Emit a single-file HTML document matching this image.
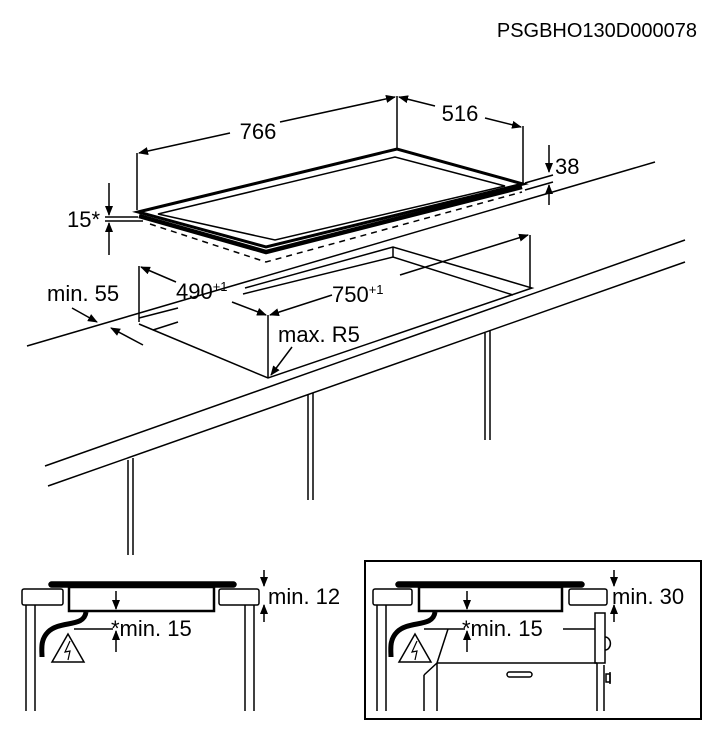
<!DOCTYPE html>
<html><head><meta charset="utf-8"><style>
html,body{margin:0;padding:0;background:#fff;}
svg{display:block;}
text{font-family:"Liberation Sans",sans-serif;fill:#000;}
</style></head><body>
<svg width="717" height="741" viewBox="0 0 717 741" xmlns="http://www.w3.org/2000/svg">
<defs>
<marker id="a" markerWidth="10" markerHeight="8" refX="9" refY="4" orient="auto" markerUnits="userSpaceOnUse">
<path d="M0,0 L10,4 L0,8 z" fill="#000"/></marker>
</defs>
<text x="697" y="37" font-size="20" text-anchor="end">PSGBHO130D000078</text>
<g stroke="#000" stroke-width="1.5" fill="none">
<!-- countertop -->
<line x1="27" y1="346" x2="655" y2="162"/>
<line x1="45" y1="466" x2="685" y2="240"/>
<line x1="48" y1="486" x2="685" y2="262"/>
<!-- legs -->
<line x1="128" y1="460" x2="128" y2="555"/><line x1="133" y1="458" x2="133" y2="555"/>
<line x1="308" y1="395" x2="308" y2="500"/><line x1="313" y1="393" x2="313" y2="500"/>
<line x1="485" y1="333" x2="485" y2="440"/><line x1="490" y1="331" x2="490" y2="440"/>
<!-- cutout -->
<polyline points="139,324 268,378 532,288 393,247 245,288"/>
<line x1="393" y1="247" x2="393" y2="257"/>
<polyline points="243,294 393,257 513,295"/>
<line x1="153" y1="330" x2="178" y2="322"/>
<line x1="139" y1="318" x2="178" y2="308"/>
<!-- hob -->
<polygon points="138,212 397,149 523,184 266,247" stroke-width="3"/>
<polygon points="158,214 395,157 505,186 275,240" stroke-width="1.5"/>
<polyline points="139,216 266,252 522,187" stroke-width="4.5" fill="none"/>
<polyline points="150,224 266,262 522,192" stroke-dasharray="6,5"/>
<!-- 766 / 516 -->
<line x1="137" y1="210" x2="137" y2="153"/>
<line x1="397" y1="149" x2="397" y2="96"/>
<line x1="523" y1="184" x2="523" y2="126"/>
<line x1="230" y1="133" x2="139" y2="153" marker-end="url(#a)"/>
<line x1="280" y1="122" x2="395" y2="97" marker-end="url(#a)"/>
<line x1="435" y1="106" x2="399" y2="97" marker-end="url(#a)"/>
<line x1="485" y1="118" x2="521" y2="127" marker-end="url(#a)"/>
<!-- 38 -->
<line x1="549" y1="145" x2="549" y2="172" marker-end="url(#a)"/>
<line x1="549" y1="205" x2="549" y2="185" marker-end="url(#a)"/>
<line x1="525" y1="183" x2="553" y2="175"/>
<line x1="525" y1="190" x2="553" y2="182"/>
<!-- 15* -->
<line x1="109" y1="183" x2="109" y2="215" marker-end="url(#a)"/>
<line x1="109" y1="255" x2="109" y2="223" marker-end="url(#a)"/>
<line x1="105" y1="217" x2="138" y2="217"/>
<line x1="105" y1="221" x2="143" y2="221"/>
<!-- 490 / 750 -->
<line x1="139" y1="266" x2="139" y2="322"/>
<line x1="268" y1="315" x2="268" y2="378"/>
<line x1="530" y1="235" x2="530" y2="288"/>
<line x1="176" y1="282" x2="141" y2="267" marker-end="url(#a)"/>
<line x1="232" y1="302" x2="266" y2="315" marker-end="url(#a)"/>
<line x1="332" y1="295" x2="270" y2="315" marker-end="url(#a)"/>
<line x1="400" y1="275" x2="528" y2="235" marker-end="url(#a)"/>
<!-- min 55 -->
<line x1="72" y1="308" x2="97" y2="322" marker-end="url(#a)"/>
<line x1="143" y1="345" x2="111" y2="328" marker-end="url(#a)"/>
<!-- R5 -->
<line x1="292" y1="347" x2="271" y2="375" marker-end="url(#a)"/>
</g>
<text x="258" y="139" font-size="22" text-anchor="middle">766</text>
<text x="460" y="121" font-size="22" text-anchor="middle">516</text>
<text x="555" y="174" font-size="22">38</text>
<text x="67" y="227" font-size="22">15*</text>
<text x="176" y="299" font-size="22">490<tspan font-size="13" dy="-8">+1</tspan></text>
<text x="332" y="302" font-size="22">750<tspan font-size="13" dy="-8">+1</tspan></text>
<text x="47" y="301" font-size="22">min. 55</text>
<text x="278" y="342" font-size="22">max. R5</text>

<!-- bottom left -->
<g stroke="#000" stroke-width="1.5" fill="none">
<rect x="49" y="582" width="187" height="5" rx="2.5" fill="#000"/>
<rect x="22" y="589" width="41" height="16" rx="2"/>
<rect x="219" y="589" width="40" height="16" rx="2"/>
<rect x="69" y="587" width="145" height="24" stroke-width="2.5"/>
<line x1="26" y1="605" x2="26" y2="711"/><line x1="35" y1="605" x2="35" y2="711"/>
<line x1="245" y1="605" x2="245" y2="711"/><line x1="254" y1="605" x2="254" y2="711"/>
<path d="M86,612 C84,628 60,620 48,632 C40,640 42,650 42,657" stroke-width="5"/>
<path d="M68,634 L52,662 L84,662 Z" stroke-width="1.5"/>
<path d="M70,641 L65,652 L70,651 L68,660" stroke-width="1.2"/>
<line x1="74" y1="629" x2="113" y2="629"/>
<line x1="116" y1="591" x2="116" y2="609" marker-end="url(#a)"/>
<line x1="116" y1="652" x2="116" y2="631" marker-end="url(#a)"/>
<line x1="264" y1="570" x2="264" y2="586" marker-end="url(#a)"/>
<line x1="264" y1="622" x2="264" y2="605" marker-end="url(#a)"/>
</g>
<text x="268" y="604" font-size="22">min. 12</text>
<text x="111" y="636" font-size="22">*min. 15</text>

<!-- bottom right -->
<g stroke="#000" stroke-width="1.5" fill="none">
<rect x="365" y="561" width="336" height="158" stroke-width="2"/>
<rect x="396" y="582" width="188" height="5" rx="2.5" fill="#000"/>
<rect x="373" y="589" width="39" height="16" rx="2"/>
<rect x="569" y="589" width="38" height="16" rx="2"/>
<rect x="419" y="587" width="143" height="24" stroke-width="2.5"/>
<line x1="377" y1="605" x2="377" y2="711"/><line x1="386" y1="605" x2="386" y2="711"/>
<path d="M435,612 C433,628 409,620 397,632 C389,640 391,650 391,657" stroke-width="5"/>
<path d="M415,634 L399,662 L431,662 Z"/>
<path d="M417,641 L412,652 L417,651 L415,660" stroke-width="1.2"/>
<line x1="424" y1="629" x2="465" y2="629"/>
<line x1="448" y1="629" x2="437" y2="663"/>
<line x1="437" y1="663" x2="597" y2="663"/>
<line x1="437" y1="663" x2="424" y2="675"/>
<line x1="424" y1="675" x2="424" y2="711"/>
<line x1="437" y1="663" x2="437" y2="711"/>
<rect x="507" y="672" width="25" height="5" rx="2.5"/>
<line x1="563" y1="629" x2="595" y2="629"/>
<rect x="595" y="613" width="10" height="50"/>
<path d="M605,637 A5,6 0 0 1 605,650"/>
<line x1="597" y1="663" x2="597" y2="711"/><line x1="604" y1="665" x2="604" y2="711"/>
<rect x="606" y="674" width="4" height="8"/><line x1="610" y1="672" x2="610" y2="684"/>
<line x1="467" y1="591" x2="467" y2="609" marker-end="url(#a)"/>
<line x1="467" y1="652" x2="467" y2="631" marker-end="url(#a)"/>
<line x1="614" y1="570" x2="614" y2="586" marker-end="url(#a)"/>
<line x1="614" y1="622" x2="614" y2="605" marker-end="url(#a)"/>
</g>
<text x="612" y="604" font-size="22">min. 30</text>
<text x="462" y="636" font-size="22">*min. 15</text>
</svg>
</body></html>
